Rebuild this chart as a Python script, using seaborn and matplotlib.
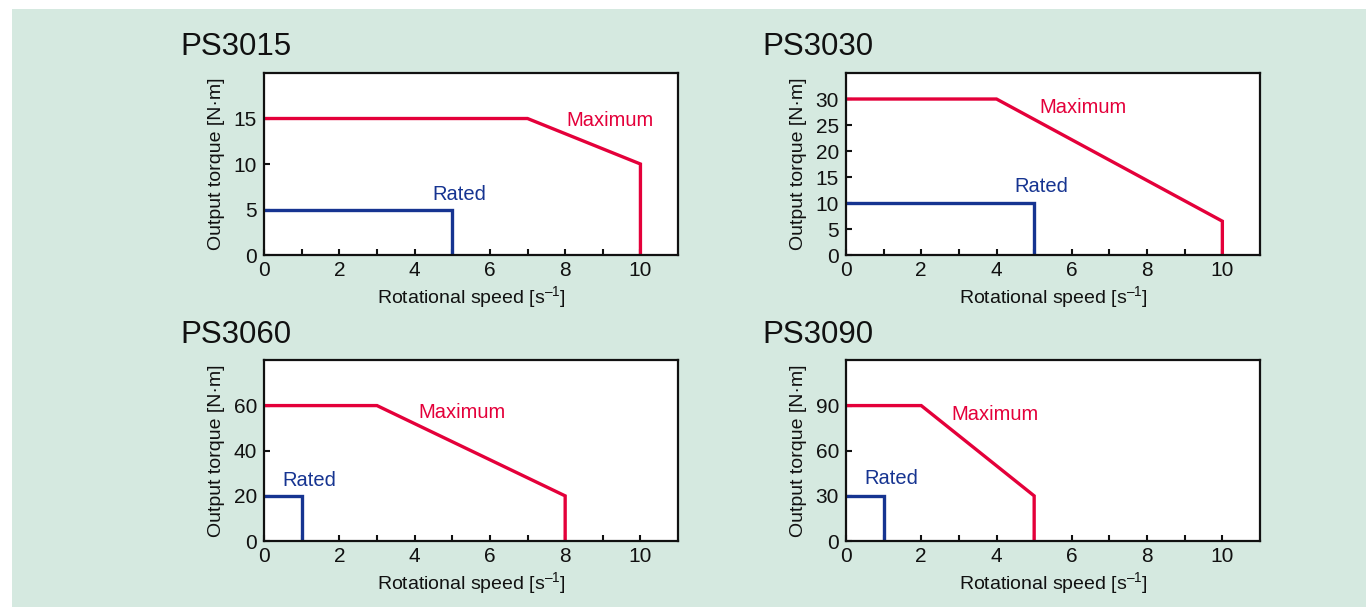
import numpy as np
import pandas as pd
import matplotlib
matplotlib.use("Agg")
import matplotlib.pyplot as plt
import seaborn as sns
from matplotlib.patches import Rectangle

# Datos de cada modelo: curvas de par máximo y nominal
modelos = ["PS3015", "PS3030", "PS3060", "PS3090"]

max_x = {"PS3015": [0, 7, 10, 10], "PS3030": [0, 4, 10, 10],
         "PS3060": [0, 3, 8, 8], "PS3090": [0, 2, 5, 5]}
max_y = {"PS3015": [15, 15, 10, 0], "PS3030": [30, 30, 6.5, 0],
         "PS3060": [60, 60, 20, 0], "PS3090": [90, 90, 30, 0]}
rated_x = {"PS3015": [0, 5, 5], "PS3030": [0, 5, 5],
           "PS3060": [0, 1, 1], "PS3090": [0, 1, 1]}
rated_y = {"PS3015": [5, 5, 0], "PS3030": [10, 10, 0],
           "PS3060": [20, 20, 0], "PS3090": [30, 30, 0]}

y_ticks = {"PS3015": [0, 5, 10, 15], "PS3030": [0, 5, 10, 15, 20, 25, 30],
           "PS3060": [0, 20, 40, 60], "PS3090": [0, 30, 60, 90]}
y_max = {"PS3015": 20, "PS3030": 35, "PS3060": 80, "PS3090": 120}

x_ticks = list(range(0, 11))
x_tick_labels = ["0", "", "2", "", "4", "", "6", "", "8", "", "10"]

# posiciones de las etiquetas (coordenadas de datos)
pos_max = {"PS3015": (9.2, 14.8), "PS3030": (6.3, 28.3),
           "PS3060": (5.25, 57), "PS3090": (3.95, 84)}
pos_rated = {"PS3015": (5.2, 6.7), "PS3030": (5.2, 13.1),
             "PS3060": (1.2, 26.7), "PS3090": (1.2, 41.4)}

ROJO = "#e4003a"
AZUL = "#163491"
VERDE = "#d5e9e0"

sns.set_theme(style="ticks")
plt.rcParams["font.family"] = ["Liberation Sans", "DejaVu Sans"]
plt.rcParams["mathtext.fontset"] = "custom"
plt.rcParams["mathtext.rm"] = "Liberation Sans"
plt.rcParams["mathtext.default"] = "rm"

fig = plt.figure(figsize=(13.66, 6.07), dpi=100)
fig.patch.set_facecolor("white")
fig.patches.append(Rectangle((12 / 1366, 0), 1, 1 - 9 / 607, transform=fig.transFigure,
                             facecolor=VERDE, edgecolor="none", zorder=-10))

posiciones = {"PS3015": [0.1933, 0.5799, 0.3031, 0.2998],
              "PS3030": [0.6193, 0.5799, 0.3031, 0.2998],
              "PS3060": [0.1933, 0.1087, 0.3031, 0.2975],
              "PS3090": [0.6193, 0.1087, 0.3031, 0.2975]}

for m in modelos:
    ax = fig.add_axes(posiciones[m])
    ax.set_facecolor("white")

    df_max = pd.DataFrame({"x": max_x[m], "y": max_y[m]})
    df_rat = pd.DataFrame({"x": rated_x[m], "y": rated_y[m]})
    sns.lineplot(data=df_max, x="x", y="y", sort=False, estimator=None, ax=ax,
                 color=ROJO, lw=2.4, solid_joinstyle="miter")
    sns.lineplot(data=df_rat, x="x", y="y", sort=False, estimator=None, ax=ax,
                 color=AZUL, lw=2.4, solid_joinstyle="miter")

    ax.text(*pos_max[m], "Maximum", color=ROJO, fontsize=14.5, ha="center", va="center")
    ax.text(*pos_rated[m], "Rated", color=AZUL, fontsize=14.5, ha="center", va="center")

    ax.set_xlim(0, 11)
    ax.set_ylim(0, y_max[m])
    ax.set_xticks(x_ticks)
    ax.set_xticklabels(x_tick_labels)
    ax.set_yticks(y_ticks[m])
    ax.tick_params(direction="in", length=4.5, width=1.5, labelsize=15, colors="#111111")
    ax.tick_params(axis="x", pad=4)
    ax.tick_params(axis="y", pad=5)
    for s in ax.spines.values():
        s.set_linewidth(1.6)
        s.set_color("#111111")
        s.set_visible(True)

    ax.set_xlabel("Rotational speed [s$^{\u2013 1}$]", fontsize=14, labelpad=3, color="#111111")
    ax.set_ylabel("Output torque [N·m]", fontsize=14, labelpad=6, color="#111111")

    x0 = posiciones[m][0] - 0.0615
    y_top = posiciones[m][1] + posiciones[m][3] + 0.018
    fig.text(x0, y_top, m, fontsize=22.5, ha="left", va="bottom", color="#111111")

plt.savefig("out.png", dpi=100, facecolor=fig.get_facecolor())
plt.close()
